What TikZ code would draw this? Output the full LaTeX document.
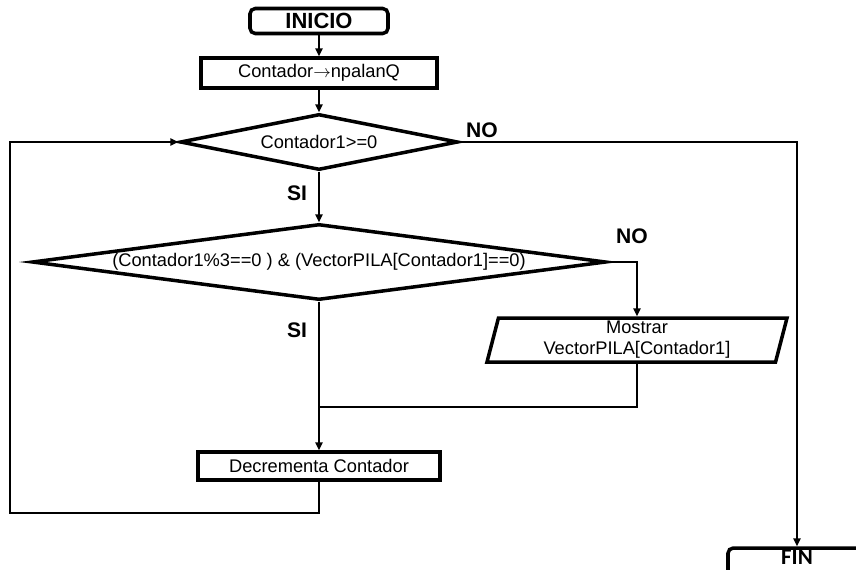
\documentclass[tikz,border=0pt]{standalone}
\usepackage{fontspec}
\setmainfont{Liberation Sans}
\newfontfamily\calibrifont{Carlito}
\usetikzlibrary{shapes.geometric, arrows.meta, positioning}

\begin{document}
\begin{tikzpicture}[x=0.02cm, y=-0.02cm,
  font=\fontsize{10.4}{12}\selectfont,
  term/.style={draw, rounded corners=3pt, line width=2pt, font=\fontsize{12.5}{14}\selectfont\bfseries, minimum height=25*0.02cm, inner sep=0pt},
  box/.style={draw, line width=2pt, minimum height=30*0.02cm, inner sep=0pt},
  cond/.style={draw, diamond, line width=2pt, inner sep=0pt},
  io/.style={draw, trapezium, trapezium left angle=73, trapezium right angle=107, trapezium stretches body, line width=2pt, inner sep=0pt, align=center},
  lbl/.style={font=\fontsize{12}{14}\selectfont\bfseries},
  line/.style={draw, line width=0.8pt},
  arrow/.style={line, -{Triangle[length=4.5pt, width=4.2pt]}}]
 \useasboundingbox (0,0) rectangle (856,569);
 % nodes
 \node[term, minimum width=138*0.02cm] (inicio) at (319,21) {INICIO};
 \node[box, minimum width=236*0.02cm] (asig) at (319,73) {Contador$\rightarrow$npalanQ};
 \node[cond, aspect=4.96, minimum width=278*0.02cm, minimum height=56*0.02cm] (cond1) at (319,142) {Contador1>=0};
 \node[cond, aspect=7.63, minimum width=574*0.02cm, minimum height=76*0.02cm] (cond2) at (319,262) {(Contador1\%3==0 ) \& (VectorPILA[Contador1]==0)};
 \node[io, minimum width=300*0.02cm, minimum height=44*0.02cm] (mostrar) at (637,340) {Mostrar\\VectorPILA[Contador1]};
 \node[box, minimum width=242*0.02cm, minimum height=28*0.02cm] (decr) at (319,466) {Decrementa Contador};
 \node[term, minimum width=138*0.02cm, minimum height=34*0.02cm, font=\fontsize{13}{14}\calibrifont\bfseries, text depth=15*0.02cm] (fin) at (797,565) {FIN};
 \coordinate (union) at (319,407);
 \coordinate (vuelta) at (10,513);
 % labels
 \node[lbl] (no1) at (482,130) {NO};
 \node[lbl] (si1) at (297,193) {SI};
 \node[lbl] (no2) at (632,236) {NO};
 \node[lbl] (si2) at (297,330) {SI};
 % connectors
 \draw[arrow] (inicio) -- (asig);
 \draw[arrow] (asig) -- (cond1);
 \draw[arrow] (cond1.east) -| (fin.north);
 \draw[arrow] (cond1.south) -- (cond2.north);
 \draw[arrow] (cond2.east) -| (mostrar.north);
 \draw[line] (mostrar.south) |- (union);
 \draw[arrow] (cond2.south) -- (decr.north);
 \draw[arrow] (decr.south) |- (vuelta) |- (cond1.west);
\end{tikzpicture}
\end{document}
